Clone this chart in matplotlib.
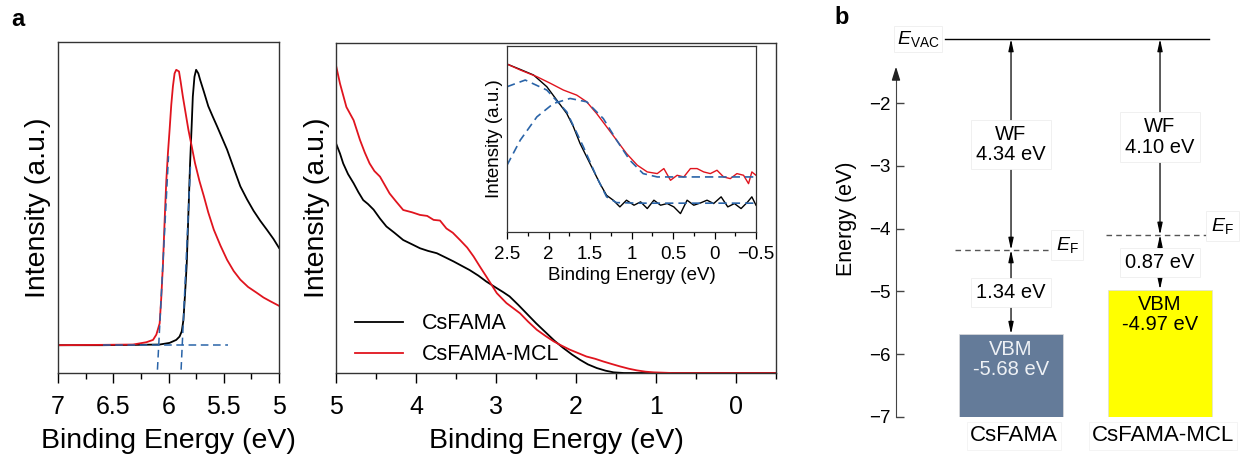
import matplotlib
matplotlib.use("Agg")
import matplotlib.pyplot as plt
from matplotlib.ticker import MultipleLocator

plt.rcParams['font.family'] = ['Liberation Sans', 'DejaVu Sans']
plt.rcParams['mathtext.fontset'] = 'custom'
plt.rcParams['mathtext.rm'] = 'Liberation Sans'
plt.rcParams['mathtext.it'] = 'Liberation Sans:italic'
plt.rcParams['axes.unicode_minus'] = True

RED = '#e0141e'
BLUE = '#2a64a8'

# --- secondary electron cutoff (left panel) ---
cut_black_x = [7.0, 6.6, 6.3, 6.08, 5.99, 5.93, 5.90, 5.88, 5.865, 5.85, 5.835, 5.82, 5.805,
               5.79, 5.78, 5.765, 5.75, 5.73, 5.714, 5.68, 5.64, 5.60, 5.56, 5.47, 5.40, 5.35,
               5.29, 5.23, 5.17, 5.11, 5.05, 5.0]
cut_black_y = [0.084, 0.084, 0.085, 0.086, 0.091, 0.10, 0.11, 0.126, 0.16, 0.24, 0.33, 0.48,
               0.63, 0.75, 0.835, 0.895, 0.916, 0.905, 0.886, 0.85, 0.806, 0.775, 0.745, 0.675,
               0.61, 0.564, 0.525, 0.49, 0.46, 0.433, 0.405, 0.378]
cut_red_x = [7.0, 6.6, 6.32, 6.20, 6.14, 6.11, 6.08, 6.065, 6.05, 6.035, 6.02, 6.005, 5.99,
             5.975, 5.96, 5.945, 5.93, 5.905, 5.89, 5.87, 5.845, 5.82, 5.79, 5.76, 5.72, 5.68,
             5.64, 5.59, 5.53, 5.47, 5.41, 5.35, 5.28, 5.2, 5.14, 5.08, 5.0]
cut_red_y = [0.084, 0.085, 0.086, 0.093, 0.10, 0.116, 0.15, 0.23, 0.33, 0.46, 0.58, 0.665,
             0.735, 0.81, 0.866, 0.905, 0.916, 0.911, 0.88, 0.835, 0.785, 0.735, 0.685, 0.634,
             0.58, 0.534, 0.485, 0.433, 0.385, 0.342, 0.308, 0.282, 0.26, 0.242, 0.228, 0.217,
             0.203]
base_fit_x = [6.59, 5.46]
base_fit_y = [0.086, 0.086]
edge_red_x = [6.10, 6.00]
edge_red_y = [0.01, 0.655]
edge_black_x = [5.886, 5.80]
edge_black_y = [0.01, 0.634]

# --- valence band region (middle panel) ---
vb_black_x = [5.0, 4.95, 4.91, 4.85, 4.78, 4.72, 4.66, 4.6, 4.53, 4.45, 4.37, 4.27, 4.16,
              4.05, 3.95, 3.85, 3.74, 3.63, 3.53, 3.43, 3.33, 3.22, 3.12, 2.99, 2.91, 2.83,
              2.72, 2.62, 2.5, 2.37, 2.27, 2.16, 2.05, 1.95, 1.85, 1.74, 1.63, 1.53, 1.4,
              1.2, -0.5]
vb_black_y = [0.696, 0.665, 0.635, 0.603, 0.575, 0.548, 0.524, 0.512, 0.495, 0.468, 0.444,
              0.425, 0.403, 0.39, 0.378, 0.37, 0.363, 0.35, 0.338, 0.325, 0.312, 0.295, 0.277,
              0.257, 0.245, 0.232, 0.206, 0.181, 0.151, 0.121, 0.098, 0.076, 0.056, 0.04, 0.026,
              0.015, 0.007, 0.002, 0.0, 0.0, 0.0]
vb_red_x = [5.0, 4.95, 4.87, 4.78, 4.70, 4.64, 4.58, 4.52, 4.45, 4.33, 4.25, 4.16, 4.05,
            3.95, 3.86, 3.78, 3.70, 3.62, 3.54, 3.45, 3.36, 3.28, 3.20, 3.12, 3.05, 2.99,
            2.87, 2.70, 2.60, 2.49, 2.38, 2.28, 2.18, 2.08, 1.97, 1.87, 1.76, 1.66, 1.55, 1.45,
            1.34, 1.24, 1.13, 1.03, 0.8, -0.5]
vb_red_y = [0.932, 0.877, 0.806, 0.766, 0.706, 0.668, 0.635, 0.612, 0.595, 0.544, 0.52,
            0.494, 0.487, 0.479, 0.476, 0.464, 0.462, 0.438, 0.425, 0.403, 0.38, 0.353, 0.322,
            0.292, 0.265, 0.242, 0.212, 0.181, 0.156, 0.131, 0.112, 0.096, 0.083, 0.071, 0.06,
            0.05, 0.043, 0.035, 0.027, 0.02, 0.013, 0.008, 0.004, 0.002, 0.0, 0.0]

# --- inset ---
in_red_x = [2.5, 2.34, 2.14, 1.98, 1.82, 1.66, 1.54, 1.42, 1.30, 1.18, 1.06, 0.93, 0.81, 0.69,
            0.61, 0.53, 0.45, 0.37, 0.29, 0.21, 0.13, 0.05, -0.03, -0.11, -0.19, -0.27, -0.35,
            -0.41, -0.45, -0.5]
in_red_y = [0.903, 0.871, 0.835, 0.80, 0.763, 0.736, 0.70, 0.637, 0.566, 0.494, 0.422, 0.359,
            0.323, 0.314, 0.341, 0.278, 0.305, 0.296, 0.341, 0.341, 0.323, 0.314, 0.332, 0.296,
            0.287, 0.314, 0.305, 0.26, 0.323, 0.305]
in_black_x = [2.5, 2.34, 2.18, 2.02, 1.90, 1.78, 1.70, 1.62, 1.54, 1.46, 1.38, 1.30, 1.22, 1.14,
              1.06, 0.97, 0.89, 0.81, 0.73, 0.65, 0.57, 0.49, 0.41, 0.33, 0.25, 0.17, 0.09, 0.01,
              -0.08, -0.16, -0.24, -0.32, -0.40, -0.45, -0.5]
in_black_y = [0.903, 0.874, 0.844, 0.781, 0.709, 0.637, 0.566, 0.476, 0.404, 0.332, 0.26, 0.197,
              0.171, 0.135, 0.171, 0.144, 0.162, 0.126, 0.171, 0.144, 0.153, 0.135, 0.099, 0.171,
              0.144, 0.156, 0.171, 0.153, 0.189, 0.135, 0.153, 0.126, 0.162, 0.189, 0.144]
fit_black_x = [2.5, 2.28, 2.02, 1.78, 1.58, 1.42, 1.30, 1.18, 0.9, -0.5]
fit_black_y = [0.781, 0.817, 0.763, 0.646, 0.458, 0.296, 0.189, 0.158, 0.155, 0.155]
fit_red_x = [2.5, 2.34, 2.14, 1.94, 1.74, 1.54, 1.34, 1.18, 1.02, 0.86, 0.69, -0.5]
fit_red_y = [0.359, 0.494, 0.619, 0.691, 0.718, 0.70, 0.61, 0.494, 0.386, 0.314, 0.296, 0.296]

# --- energy diagram ---
samples = ['CsFAMA', 'CsFAMA-MCL']
work_function = [4.34, 4.10]
vbm = [-5.68, -4.97]
vbm_gap = [1.34, 0.87]
box_colors = ['#647b99', '#ffff00']
vbm_text_colors = ['#eef1f5', 'black']
e_vac = -0.98   # drawn level (axis is broken above -1.5)
e_bottom = -7

W, H = 1247, 455
fig = plt.figure(figsize=(W / 100, H / 100), dpi=100)


def px_axes(x0, y0, x1, y1):
    return fig.add_axes([x0 / W, 1 - y1 / H, (x1 - x0) / W, (y1 - y0) / H])


def style_spines(ax, lw=1.0):
    for s in ax.spines.values():
        s.set_color('#333333')
        s.set_linewidth(lw)


# left panel
ax1 = px_axes(58, 42, 279, 373)
ax1.plot(cut_black_x, cut_black_y, color='black', lw=1.3)
ax1.plot(cut_red_x, cut_red_y, color=RED, lw=1.3)
for xs, ys in [(base_fit_x, base_fit_y), (edge_red_x, edge_red_y), (edge_black_x, edge_black_y)]:
    ax1.plot(xs, ys, color=BLUE, lw=1.1, ls=(0, (5, 3)))
ax1.set_xlim(7, 5)
ax1.set_ylim(0, 1)
ax1.set_yticks([])
ax1.xaxis.set_minor_locator(MultipleLocator(0.25))
ax1.set_xticks([7, 6.5, 6, 5.5, 5])
ax1.set_xticklabels(['7', '6.5', '6', '5.5', '5'])
ax1.tick_params(axis='x', which='major', length=7, width=1, labelsize=18, pad=9)
ax1.tick_params(axis='x', which='minor', length=4, width=1)
ax1.set_xlabel('Binding Energy (eV)', fontsize=20.5, labelpad=6)
ax1.set_ylabel('Intensity (a.u.)', fontsize=20.5)
ax1.yaxis.set_label_coords(-0.03, 0.5)
style_spines(ax1)

# middle panel
ax2 = px_axes(336, 43, 776, 373)
ax2.plot(vb_black_x, vb_black_y, color='black', lw=1.3, label='CsFAMA')
ax2.plot(vb_red_x, vb_red_y, color=RED, lw=1.3, label='CsFAMA-MCL')
ax2.set_xlim(5, -0.5)
ax2.set_ylim(0, 1)
ax2.set_yticks([])
ax2.xaxis.set_major_locator(MultipleLocator(1))
ax2.xaxis.set_minor_locator(MultipleLocator(0.5))
ax2.tick_params(axis='x', which='major', length=7, width=1, labelsize=18, pad=9)
ax2.tick_params(axis='x', which='minor', length=4, width=1)
ax2.set_xlabel('Binding Energy (eV)', fontsize=20.5, labelpad=6)
ax2.set_ylabel('Intensity (a.u.)', fontsize=20.5)
ax2.yaxis.set_label_coords(-0.014, 0.5)
ax2.legend(loc='lower left', bbox_to_anchor=(0.0, -0.035), frameon=False, fontsize=15.5,
           handlelength=2.2, handletextpad=0.9, labelspacing=0.45)
style_spines(ax2)

# inset
ax3 = px_axes(507, 46, 756, 232)
ax3.plot(in_black_x, in_black_y, color='black', lw=1.0)
ax3.plot(in_red_x, in_red_y, color=RED, lw=1.0)
ax3.plot(fit_black_x, fit_black_y, color=BLUE, lw=1.2, ls=(0, (5, 3)))
ax3.plot(fit_red_x, fit_red_y, color=BLUE, lw=1.2, ls=(0, (5, 3)))
ax3.set_xlim(2.5, -0.5)
ax3.set_ylim(0, 1)
ax3.set_yticks([])
ax3.xaxis.set_minor_locator(MultipleLocator(0.25))
ax3.set_xticks([2.5, 2, 1.5, 1, 0.5, 0, -0.5])
ax3.set_xticklabels(['2.5', '2', '1.5', '1', '0.5', '0', '\u22120.5'])
ax3.tick_params(axis='x', which='major', length=5, width=0.9, labelsize=13.5, pad=5)
ax3.tick_params(axis='x', which='minor', length=3, width=0.9)
ax3.set_xlabel('Binding Energy (eV)', fontsize=13.5, labelpad=3)
ax3.set_ylabel('Intensity (a.u.)', fontsize=13.5)
ax3.yaxis.set_label_coords(-0.016, 0.5)
style_spines(ax3, 0.9)

# right panel: energy level diagram
ax4 = px_axes(896, 21.4, 1215, 417)
xpos = [0, 1]
ax4.set_xlim(-0.772, 1.369)
ax4.set_ylim(e_bottom, -0.7)
for s in ['top', 'right', 'bottom']:
    ax4.spines[s].set_visible(False)
ax4.spines['left'].set_bounds(e_bottom, -1.5)
ax4.spines['left'].set_color('#444444')
ax4.annotate('', xy=(-0.772, -1.42), xytext=(-0.772, -1.6),
             arrowprops=dict(arrowstyle='-|>,head_length=0.8,head_width=0.25',
                             color='#222222', lw=1.0, shrinkA=0, shrinkB=0))
ax4.set_xticks([])
ax4.set_yticks([-7, -6, -5, -4, -3, -2])
ax4.tick_params(axis='y', direction='in', length=6, width=1, color='#444444',
                labelsize=13.5, pad=4)
ax4.set_ylabel('Energy (eV)', fontsize=15.5)
ax4.yaxis.set_label_coords(-0.122, 0.5)

ax4.bar(xpos, [v - e_bottom for v in vbm], bottom=e_bottom, width=0.7,
        color=box_colors, edgecolor='#dddddd', linewidth=0.5, zorder=1)
ax4.plot([-0.44, 1.33], [e_vac, e_vac], color='black', lw=1.0)
ax4.text(-0.624, e_vac, r'$E_{\mathrm{VAC}}$', fontsize=14, ha='center', va='center',
         bbox=dict(boxstyle='square,pad=0.15', fc='white', ec='#eeeeee', lw=0.6))

box = dict(boxstyle='square,pad=0.25', fc='white', ec='#eeeeee', lw=0.6)
arrow = dict(arrowstyle='<|-|>,head_length=0.7,head_width=0.15', color='black',
             lw=0.9, shrinkA=0, shrinkB=0)
ef_spans = [(-0.376, 0.275), (0.64, 1.33)]
ef_label_pos = [(0.376, 0.08), (1.42, 0.14)]
for i, x in enumerate(xpos):
    ef = -work_function[i]
    ax4.plot(ef_spans[i], [ef, ef], color='#555555', lw=1.0, ls=(0, (4, 3)))
    ax4.text(ef_label_pos[i][0], ef + ef_label_pos[i][1], r'$E_{\mathrm{F}}$', fontsize=14,
             ha='center', va='center', bbox=box)
    ax4.annotate('', xy=(x, e_vac), xytext=(x, ef), arrowprops=arrow)
    ax4.annotate('', xy=(x, ef), xytext=(x, vbm[i]), arrowprops=arrow)
    ax4.text(x, (e_vac + ef) / 2, 'WF\n%.2f eV' % work_function[i], fontsize=14.5,
             ha='center', va='center', linespacing=1.1, bbox=box)
    ax4.text(x, (ef + vbm[i]) / 2, '%.2f eV' % vbm_gap[i], fontsize=14.5,
             ha='center', va='center', bbox=box)
    ax4.text(x, vbm[i] - 0.4, 'VBM\n%.2f eV' % vbm[i], fontsize=14.5, ha='center',
             va='center', linespacing=1.05, color=vbm_text_colors[i])
    ax4.text(x + 0.02, e_bottom - 0.3, samples[i], fontsize=16, ha='center', va='center',
             bbox=dict(boxstyle='square,pad=0.15', fc='white', ec='#f2f2f2', lw=0.6))

fig.text(18 / W, 1 - 20 / H, 'a', fontsize=17, fontweight='bold', ha='center', va='center')
fig.text(842 / W, 1 - 18 / H, 'b', fontsize=17, fontweight='bold', ha='center', va='center')

fig.savefig('out.png', dpi=100)
